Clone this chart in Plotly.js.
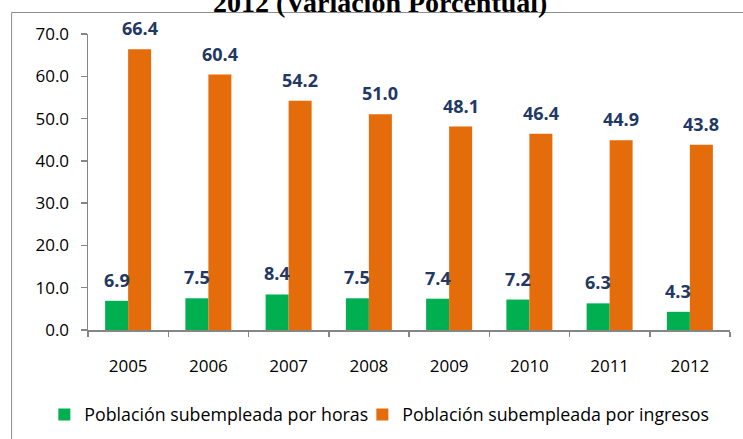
<!DOCTYPE html>
<html>
<head>
<meta charset="utf-8">
<script src="https://cdn.plot.ly/plotly-3.0.1.min.js"></script>
<style>html,body{margin:0;padding:0;background:#fff;overflow:hidden;}#chart{width:743px;height:439px;}</style>
</head>
<body>
<div id="chart"></div>
<script>
const years = ["2005","2006","2007","2008","2009","2010","2011","2012"];
const horas = [6.9, 7.5, 8.4, 7.5, 7.4, 7.2, 6.3, 4.3];
const ingresos = [66.4, 60.4, 54.2, 51.0, 48.1, 46.4, 44.9, 43.8];
const yTicks = [0, 10, 20, 30, 40, 50, 60, 70];
const nameHoras = "Población subempleada por horas";
const nameIngresos = "Población subempleada por ingresos";
const titleText = "2012 (Variación Porcentual)";

const labelFont = {family: "Open Sans", size: 18, color: "#1F3864", weight: "bold"};

const traces = [
  {type: "bar", x: years, y: horas, name: nameHoras, marker: {color: "#00B050"}, legendwidth: 273},
  {type: "bar", x: years, y: ingresos, name: nameIngresos, marker: {color: "#E46C0A"}}
];

function valueLabels(vals, xshift) {
  return vals.map((v, i) => ({
    x: i, y: v, xref: "x", yref: "y", text: v.toFixed(1), showarrow: false,
    xanchor: "center", yanchor: "bottom", xshift: xshift, yshift: 7, font: labelFont
  }));
}

const layout = {
  width: 743, height: 439,
  margin: {l: 88, r: 13, t: 34, b: 109, autoexpand: false},
  paper_bgcolor: "#ffffff", plot_bgcolor: "#ffffff",
  barmode: "group", bargap: 0.427, bargroupgap: 0,
  font: {family: "Open Sans", size: 17, color: "#000"},
  showlegend: true,
  legend: {orientation: "h", x: -0.068, xanchor: "left", y: -0.287, yanchor: "middle",
           font: {family: "Open Sans", size: 17.8, color: "#000"}, traceorder: "normal"},
  xaxis: {type: "category", categoryarray: years, range: [-0.5, years.length - 0.5],
          showline: true, linecolor: "#868686", linewidth: 1.5,
          ticks: "outside", tickson: "boundaries", ticklen: 5, tickcolor: "#868686", tickwidth: 1.5,
          showgrid: false, zeroline: false, ticklabelstandoff: 20,
          tickfont: {family: "Open Sans", size: 17, color: "#000"}},
  yaxis: {range: [0, 70], tickvals: yTicks, ticktext: yTicks.map(v => v.toFixed(1)),
          showline: true, linecolor: "#868686", linewidth: 1.5,
          ticks: "outside", ticklen: 6, tickcolor: "#868686", tickwidth: 1.5,
          showgrid: false, zeroline: false, ticklabelstandoff: 8,
          tickfont: {family: "Open Sans", size: 17, color: "#000"}},
  shapes: [
    {type: "line", xref: "paper", yref: "paper", x0: -0.119, x1: -0.119, y0: -0.4, y1: 1.0726,
     line: {color: "#8C8C8C", width: 1}, layer: "below"},
    {type: "line", xref: "paper", yref: "paper", x0: -0.119, x1: 1.5, y0: 1.0726, y1: 1.0726,
     line: {color: "#8C8C8C", width: 1}, layer: "below"}
  ],
  annotations: [
    {xref: "paper", yref: "paper", x: (380 - 88) / 642, y: 1.047, xanchor: "center", yanchor: "bottom",
     text: titleText, showarrow: false,
     font: {family: "Liberation Serif", size: 28, color: "#000", weight: "bold"}}
  ].concat(valueLabels(horas, -11.5), valueLabels(ingresos, 11.5))
};

Plotly.newPlot("chart", traces, layout, {displayModeBar: false, staticPlot: true});
</script>
</body>
</html>
